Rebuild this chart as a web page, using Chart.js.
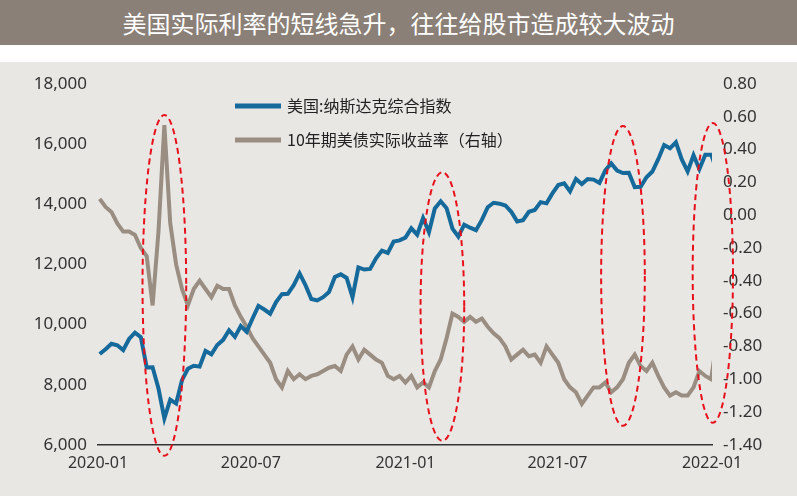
<!DOCTYPE html>
<html><head><meta charset="utf-8">
<script src="https://cdn.jsdelivr.net/npm/chart.js@4"></script>
<style>
body{margin:0;width:797px;height:496px;background:#fff;font-family:"Noto Sans CJK SC","Noto Sans",sans-serif;overflow:hidden}
#t{height:45px;background:#8b8077;color:#fff;font-size:24px;line-height:45px;text-align:center}
#c{position:absolute;top:62px;left:0;width:797px;height:434px;background:#e9e7e4}
</style></head><body>
<div id="t">美国实际利率的短线急升，往往给股市造成较大波动</div>
<div id="c"><canvas id="cv"></canvas></div>
<script>
const startDate = "2020-01-03"; // weekly observations
const xTickLabels = ["2020-01","2020-07","2021-01","2021-07","2022-01"];
const xTickDays = [0,182,366,547,731];
const nasdaq = [9020,9180,9360,9310,9150,9520,9730,9580,8570,8580,7870,6880,7500,7370,8150,8530,8630,8600,9120,9010,9320,9490,9810,9590,9950,9760,10200,10620,10500,10360,10750,11010,11020,11310,11700,11310,10850,10800,10910,11080,11580,11670,11550,10910,11900,11830,11850,12200,12460,12380,12760,12800,12890,13200,12990,13540,13070,13860,14100,13870,13190,12920,13320,13220,13140,13480,13900,14050,14020,13960,13750,13430,13470,13750,13810,14070,14030,14360,14640,14700,14430,14840,14670,14840,14820,14710,15130,15360,15120,15040,15050,14570,14580,14900,15090,15500,15970,15860,16060,15490,15090,15630,15170,15650,15650,15100];
const realYield = [0.10,0.05,0.02,-0.05,-0.10,-0.10,-0.12,-0.20,-0.25,-0.55,-0.10,0.55,-0.05,-0.30,-0.45,-0.55,-0.45,-0.40,-0.45,-0.50,-0.43,-0.45,-0.45,-0.55,-0.62,-0.68,-0.75,-0.80,-0.85,-0.90,-1.00,-1.05,-0.95,-1.00,-0.97,-1.00,-0.98,-0.97,-0.95,-0.93,-0.92,-0.95,-0.85,-0.80,-0.88,-0.82,-0.85,-0.88,-0.90,-0.98,-1.00,-0.98,-1.02,-0.98,-1.05,-1.02,-1.05,-0.95,-0.88,-0.75,-0.60,-0.62,-0.65,-0.62,-0.65,-0.63,-0.68,-0.72,-0.75,-0.80,-0.88,-0.85,-0.82,-0.86,-0.85,-0.90,-0.80,-0.85,-0.90,-1.00,-1.05,-1.08,-1.15,-1.10,-1.05,-1.05,-1.02,-1.08,-1.05,-1.00,-0.90,-0.85,-0.92,-0.95,-0.90,-0.98,-1.05,-1.10,-1.08,-1.10,-1.10,-1.05,-0.95,-0.98,-1.00,-0.75];
// spike episodes: [center day, half-width days, top (left axis), bottom (left axis)]
const episodes = [[79,26,16967,5633],[410,26,15067,6133],[625,26,16600,6633],[732,24,16700,6733]];

const pts = a => a.map((v,i)=>({x:i*7+2,y:v}));
const ellipses = {id:'ell',afterDatasetsDraw(ch){
  const c=ch.ctx,xs=ch.scales.x,ys=ch.scales.y;
  c.save();c.strokeStyle='#e8101a';c.lineWidth=2;c.setLineDash([6,4]);
  episodes.forEach(e=>{const cx=xs.getPixelForValue(e[0]),rx=xs.getPixelForValue(e[0]+e[1])-cx;
    const t=ys.getPixelForValue(e[2]),b=ys.getPixelForValue(e[3]);
    c.beginPath();c.ellipse(cx,(t+b)/2,rx,(b-t)/2,0,0,Math.PI*2);c.stroke();});
  c.restore();
  c.save();c.font='16px "Noto Sans CJK SC"';c.fillStyle='#222';c.textBaseline='middle';
  ch.data.datasets.forEach((d,i)=>{const y=ch.chartArea.top+22+i*34,x=ch.chartArea.left+137;
    c.strokeStyle=d.borderColor;c.lineWidth=5;c.setLineDash([]);c.beginPath();c.moveTo(x,y);c.lineTo(x+46,y);c.stroke();
    c.fillText(d.label,x+52,y);});
  c.restore();
}};
new Chart(document.getElementById('cv'),{type:'line',
 data:{datasets:[
  {label:'美国:纳斯达克综合指数',data:pts(nasdaq),borderColor:'#156a9b',borderWidth:4,pointRadius:0,yAxisID:'y',tension:0},
  {label:'10年期美债实际收益率（右轴）',data:pts(realYield),borderColor:'#9a8d82',borderWidth:4,pointRadius:0,yAxisID:'y1',tension:0}]},
 plugins:[ellipses],
 options:{responsive:true,maintainAspectRatio:false,animation:false,
  layout:{padding:{left:8,right:10,top:22,bottom:20}},
  plugins:{legend:{display:false},tooltip:{enabled:false}},
  scales:{
   x:{type:'linear',min:0,max:731,afterBuildTicks(s){s.ticks=xTickDays.map(v=>({value:v}));},
      ticks:{callback:(v)=>xTickLabels[xTickDays.indexOf(v)]||'',color:'#333',font:{size:16,family:'"Noto Sans"'},maxRotation:0,autoSkip:false},
      grid:{display:false,drawTicks:true,tickLength:6,tickColor:'#333'},border:{color:'#333',width:1.5}},
   y:{position:'left',min:6000,max:18000,afterFit(s){s.width=90;},
      ticks:{stepSize:2000,color:'#333',font:{size:17,family:'"Noto Sans"'},callback:v=>v.toLocaleString('en-US')},
      grid:{display:false},border:{display:false}},
   y1:{position:'right',min:-1.4,max:0.8,afterFit(s){s.width=75;},
      ticks:{stepSize:0.2,color:'#333',font:{size:17,family:'"Noto Sans"'},callback:v=>v.toFixed(2)},
      grid:{display:false},border:{display:false}}
  }}});
</script></body></html>
